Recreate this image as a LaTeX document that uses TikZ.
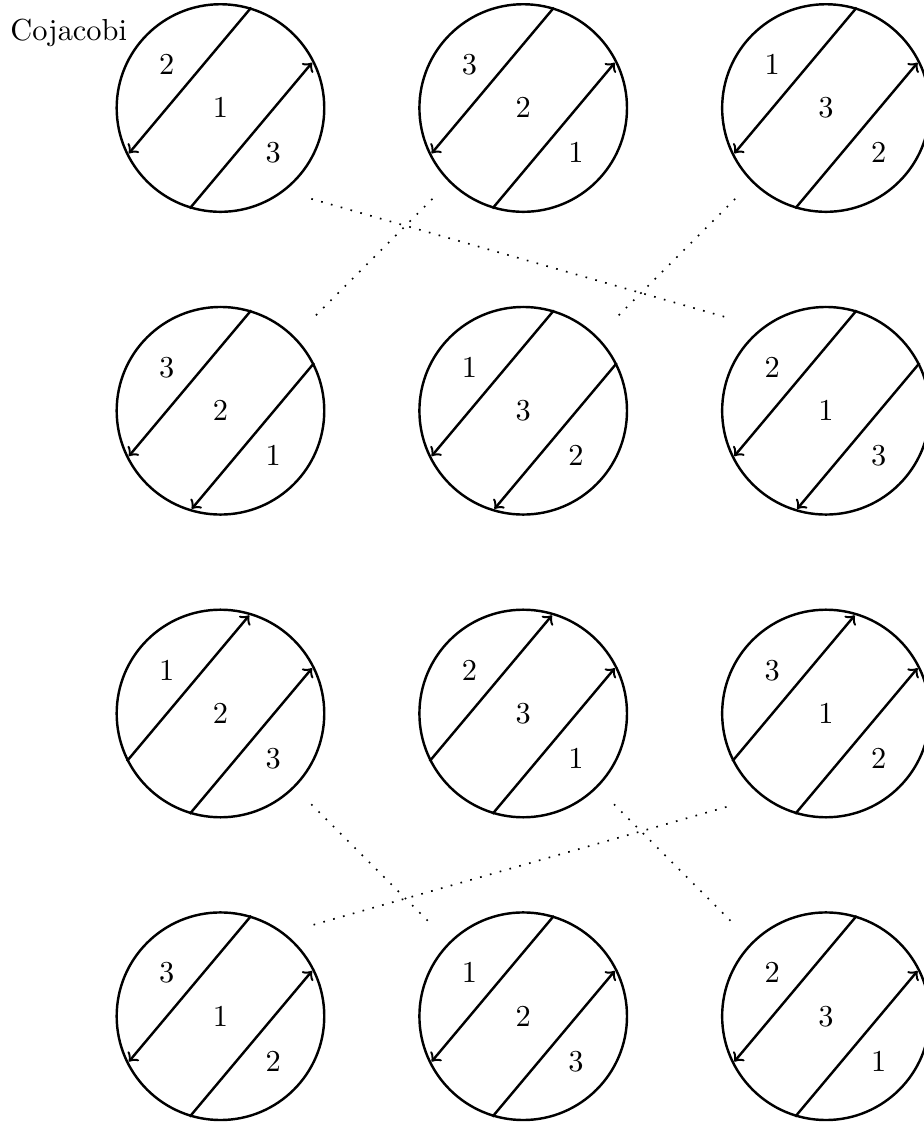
\documentclass[tikz,border=0pt]{standalone}
\usepackage{tikz}

\begin{document}
\begin{tikzpicture}[
    disk/.style={draw, thick, circle, minimum size=2.4cm, inner sep=0pt},
    chord/.style={->, thick, shorten >=1pt},
    link/.style={line width=0.55pt, dash pattern=on 0.55pt off 2.8pt}]
    \useasboundingbox (-2.549, -11.746) rectangle (8.133, 1.249);

    \node[anchor=base] (title) at (-1.754, 0.778) {Cojacobi};

    % twelve disks: name / position / labels / start angles of the two chords
    \foreach \name/\x/\y/\p/\q/\r/\a/\b [evaluate=\a as \ea using int(280-\a),
        evaluate=\b as \eb using int(280-\b)] in {
        c11/0/0/2/1/3/73/253, c12/3.5/0/3/2/1/73/253, c13/7/0/1/3/2/73/253,
        c21/0/-3.5/3/2/1/73/27, c22/3.5/-3.5/1/3/2/73/27, c23/7/-3.5/2/1/3/73/27,
        c31/0/-7/1/2/3/207/253, c32/3.5/-7/2/3/1/207/253, c33/7/-7/3/1/2/207/253,
        c41/0/-10.5/3/1/2/73/253, c42/3.5/-10.5/1/2/3/73/253, c43/7/-10.5/2/3/1/73/253} {
        \node[disk] (\name) at (\x, \y) {};
        \draw[chord] (\name.\a) -- (\name.\ea);
        \draw[chord] (\name.\b) -- (\name.\eb);
        \node (\name-p) at ([shift={(-0.62, 0.5)}]\name.center) {$\p$};
        \node (\name-q) at (\name.center) {$\q$};
        \node (\name-r) at ([shift={(0.61, -0.52)}]\name.center) {$\r$};
    }

    % dotted links between the first two rows
    \draw[link] ([shift={(1.05, -1.05)}]c11.center) -- ([shift={(-1.15, 1.08)}]c23.center);
    \draw[link] ([shift={(-1.05, -1.05)}]c12.center) -- ([shift={(1.05, 1.05)}]c21.center);
    \draw[link] ([shift={(-1.05, -1.05)}]c13.center) -- ([shift={(1.05, 1.05)}]c22.center);

    % dotted links between the last two rows
    \draw[link] ([shift={(1.05, -1.05)}]c31.center) -- ([shift={(-1.05, 1.05)}]c42.center);
    \draw[link] ([shift={(1.05, -1.05)}]c32.center) -- ([shift={(-1.05, 1.05)}]c43.center);
    \draw[link] ([shift={(-1.15, -1.08)}]c33.center) -- ([shift={(1.05, 1.05)}]c41.center);
\end{tikzpicture}
\end{document}
